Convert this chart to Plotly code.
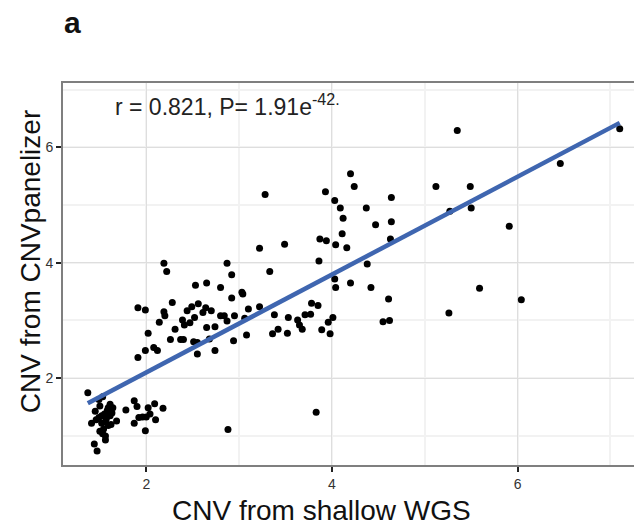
import numpy as np
import plotly.graph_objects as go

# CNV estimated from shallow WGS (x) vs CNVpanelizer (y)
wgs_cnv = [
    7.10, 5.35, 6.46, 4.20, 4.24, 3.93, 3.28, 4.03, 4.64, 5.12, 5.49, 4.09, 4.37, 5.50, 5.27,
    4.12, 4.47, 4.64, 5.91, 4.11, 4.63, 3.87, 3.94, 4.04, 4.16, 3.22, 3.49, 3.86, 4.38, 2.87,
    2.19, 2.22, 2.92, 3.33, 4.03, 4.04, 4.20, 4.42, 4.61, 5.59, 6.04, 5.26, 4.55, 4.62, 4.01,
    3.96, 3.89, 3.98, 3.83, 2.88,
    2.53, 2.65, 2.80, 3.03, 3.04, 2.92, 2.28, 1.91, 1.99, 2.19, 2.20, 2.14, 2.49, 2.56, 2.44,
    2.61, 2.64, 2.70, 2.39, 2.41, 2.47, 2.52, 2.31, 2.02, 2.65, 2.74, 2.80, 2.84, 2.87, 2.95,
    3.06, 3.10, 3.22, 3.08, 2.26, 2.37, 2.40, 2.51, 2.55, 2.55, 2.68, 2.94, 2.74, 1.99, 2.08,
    2.12, 1.91, 3.38, 3.53, 3.63, 3.65, 3.68, 3.71, 3.77, 3.78, 3.85, 3.36, 3.42, 3.52,
    1.37, 1.53, 1.61, 1.45, 1.49, 1.55, 1.63, 1.68, 1.41, 1.52, 1.59, 1.53, 1.56, 1.44, 1.47,
    1.78, 1.87, 1.90, 1.87, 1.96, 2.02, 2.09, 2.04, 2.10, 2.18, 1.99, 1.59, 1.50, 1.57, 1.54,
    1.61, 1.49, 1.64, 2.00, 1.92, 1.58, 1.52, 1.46, 1.56, 1.62, 1.50, 1.56,
]
panelizer_cnv = [
    6.32, 6.29, 5.72, 5.54, 5.32, 5.23, 5.18, 5.08, 5.13, 5.32, 5.32, 4.95, 4.95, 4.95, 4.89,
    4.77, 4.66, 4.71, 4.63, 4.50, 4.41, 4.41, 4.38, 4.31, 4.26, 4.25, 4.32, 4.03, 3.98, 3.99,
    3.99, 3.85, 3.79, 3.85, 3.72, 3.57, 3.65, 3.57, 3.37, 3.56, 3.36, 3.13, 2.98, 3.00, 3.05,
    2.97, 2.84, 2.77, 1.41, 1.11,
    3.61, 3.65, 3.57, 3.49, 3.46, 3.39, 3.31, 3.22, 3.18, 3.15, 3.08, 2.97, 3.24, 3.29, 3.17,
    3.14, 3.22, 3.17, 3.01, 2.92, 2.96, 3.05, 2.85, 2.78, 2.88, 2.89, 3.08, 3.08, 2.99, 3.08,
    3.04, 3.20, 3.24, 2.75, 2.67, 2.67, 2.67, 2.63, 2.62, 2.42, 2.68, 2.65, 2.48, 2.48, 2.53,
    2.48, 2.36, 3.10, 3.05, 3.01, 2.92, 2.85, 3.10, 3.11, 3.30, 3.26, 2.77, 2.85, 2.78,
    1.75, 1.68, 1.55, 1.43, 1.32, 1.38, 1.40, 1.26, 1.22, 1.22, 1.18, 1.04, 0.93, 0.86, 0.74,
    1.45, 1.61, 1.51, 1.22, 1.33, 1.49, 1.56, 1.38, 1.28, 1.48, 1.09, 1.49, 1.52, 1.30, 1.12,
    1.35, 1.63, 1.49, 1.33, 1.32, 1.44, 1.35, 1.28, 1.25, 1.20, 1.08, 1.00,
]
x_ticks = [2, 4, 6]
y_ticks = [2, 4, 6]
stat_label = "r = 0.821, P= 1.91e<sup>-42.</sup>"
x_title = "CNV from shallow WGS"
y_title = "CNV from CNVpanelizer"
panel_label = "a"

x = np.array(wgs_cnv)
y = np.array(panelizer_cnv)
slope, intercept = np.polyfit(x, y, 1)
fit_x = np.array([x.min(), x.max()])
fit_y = slope * fit_x + intercept

fig = go.Figure()
fig.add_trace(go.Scatter(x=x, y=y, mode="markers",
                         marker=dict(color="black", size=7, line=dict(width=0)),
                         showlegend=False, hoverinfo="x+y"))
fig.add_trace(go.Scatter(x=fit_x, y=fit_y, mode="lines",
                         line=dict(color="#3F66B0", width=4.5),
                         showlegend=False, hoverinfo="skip"))

tick_font = dict(family="Liberation Sans Narrow, Arial Narrow, Liberation Sans, Arial",
                 size=14, color="#333333")
axis_common = dict(
    showgrid=True, gridcolor="#DEDEDE", gridwidth=1,
    zeroline=False, showline=False,
    ticks="outside", ticklen=5, tickwidth=2, tickcolor="#222222",
    tickfont=tick_font,
    minor=dict(dtick=1, showgrid=True, gridcolor="#F2F2F2", gridwidth=2, ticks=""),
)
fig.update_layout(
    width=634, height=518,
    margin=dict(l=54, r=0, t=74, b=60),
    paper_bgcolor="white", plot_bgcolor="white",
    font=dict(family="Liberation Sans, Arial, sans-serif", color="#222222"),
    xaxis=dict(range=[1.092, 7.34], tickvals=x_ticks, ticktext=[str(v) for v in x_ticks],
               **axis_common),
    yaxis=dict(range=[0.48, 7.13], tickvals=y_ticks, ticktext=[str(v) for v in y_ticks],
               **axis_common),
    shapes=[dict(type="rect", xref="paper", yref="paper", x0=0, x1=1.05, y0=0, y1=1,
                 line=dict(color="#7F7F7F", width=2), fillcolor="rgba(0,0,0,0)", layer="above")],
    annotations=[
        dict(text=stat_label, xref="paper", yref="paper", x=0.088, y=0.94,
             xanchor="left", yanchor="middle", showarrow=False,
             font=dict(size=23, color="#222222")),
        dict(text=x_title, xref="paper", yref="paper", x=0.448, y=-0.115,
             xanchor="center", yanchor="middle", showarrow=False,
             font=dict(size=28, color="#111111")),
        dict(text=y_title, xref="paper", yref="paper", x=-0.055, y=0.531,
             xanchor="center", yanchor="middle", textangle=-90, showarrow=False,
             font=dict(size=28, color="#111111")),
        dict(text="<b>" + panel_label + "</b>", xref="paper", yref="paper",
             x=0.0, y=1.156, xanchor="left", yanchor="middle", showarrow=False,
             font=dict(size=30, color="#111111")),
    ],
)
fig.write_html("out.html")
